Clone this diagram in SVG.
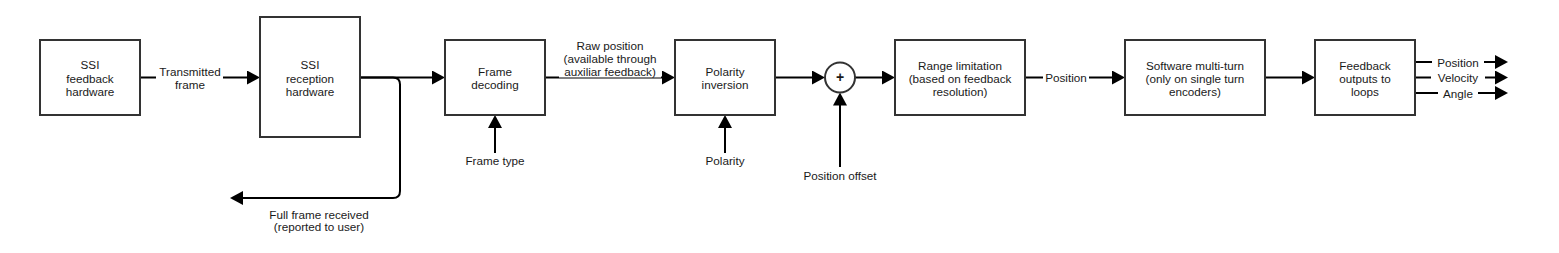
<svg xmlns="http://www.w3.org/2000/svg" width="1559" height="253" viewBox="0 0 1559 253">
<style>
.box{fill:#fff;stroke:#333;stroke-width:2}
.t{font-family:"Liberation Sans",Arial,sans-serif;font-size:11.7px;fill:#1a1a1a;text-anchor:middle;dominant-baseline:central}
.c{fill:none;stroke:#000;stroke-width:2}
.a{marker-end:url(#ah)}
.bg{fill:#fff}
</style>
<defs>
<marker id="ah" markerUnits="userSpaceOnUse" markerWidth="13" markerHeight="14" refX="3" refY="7" orient="auto" viewBox="0 0 13 14">
<path d="M0,0 L13,7 L0,14 z" fill="#000"/>
</marker>
</defs>
<rect width="1559" height="253" fill="#fff"/>
<g id="connectors">
<line class="c a" x1="140" y1="77.5" x2="250" y2="77.5"/>
<line class="c a" x1="360" y1="77.5" x2="435" y2="77.5"/>
<path class="c a" d="M360,77.5 H393 Q400,77.5 400,84.5 V191 Q400,198 393,198 H240"/>
<line class="c a" x1="545" y1="77.5" x2="665" y2="77.5"/>
<line class="c a" x1="495" y1="153" x2="495" y2="125"/>
<line class="c a" x1="775" y1="77.5" x2="815" y2="77.5"/>
<line class="c a" x1="725" y1="153" x2="725" y2="125"/>
<line class="c a" x1="855" y1="77.5" x2="885" y2="77.5"/>
<line class="c a" x1="840" y1="167" x2="840" y2="102.5"/>
<line class="c a" x1="1025" y1="77.5" x2="1115" y2="77.5"/>
<line class="c a" x1="1265" y1="77.5" x2="1305" y2="77.5"/>
<line class="c a" x1="1415" y1="62" x2="1498" y2="62"/>
<line class="c a" x1="1415" y1="77.5" x2="1498" y2="77.5"/>
<line class="c a" x1="1415" y1="93" x2="1498" y2="93"/>
</g>
<g id="edge-labels">
<rect class="bg" x="156" y="64" width="67" height="27"/>
<text class="t" x="190" y="71.5">Transmitted</text>
<text class="t" x="190" y="84">frame</text>
<rect class="bg" x="559" y="37" width="102" height="40.5"/>
<text class="t" x="610" y="45">Raw position</text>
<text class="t" x="610" y="58.3">(available through</text>
<text class="t" x="610" y="71.6">auxiliar feedback)</text>
<text class="t" x="495" y="160">Frame type</text>
<text class="t" x="725" y="160">Polarity</text>
<text class="t" x="840" y="175">Position offset</text>
<text class="t" x="319" y="214">Full frame received</text>
<text class="t" x="319" y="226.5">(reported to user)</text>
<rect class="bg" x="1043" y="70" width="46" height="15"/>
<text class="t" x="1066" y="77.5">Position</text>
<rect class="bg" x="1432" y="55" width="52" height="14"/>
<text class="t" x="1458" y="62">Position</text>
<rect class="bg" x="1431" y="71" width="54" height="14"/>
<text class="t" x="1458" y="77.5">Velocity</text>
<rect class="bg" x="1438" y="86" width="40" height="14"/>
<text class="t" x="1458" y="93">Angle</text>
</g>
<g id="ssi-feedback-hardware">
<rect class="box" x="40" y="40" width="100" height="75"/>
<text class="t" x="90" y="64.5">SSI</text>
<text class="t" x="90" y="78">feedback</text>
<text class="t" x="90" y="91.5">hardware</text>
</g>
<g id="ssi-reception-hardware">
<rect class="box" x="260" y="17" width="100" height="120"/>
<text class="t" x="310" y="64.5">SSI</text>
<text class="t" x="310" y="78">reception</text>
<text class="t" x="310" y="91.5">hardware</text>
</g>
<g id="frame-decoding">
<rect class="box" x="445" y="40" width="100" height="75"/>
<text class="t" x="495" y="71">Frame</text>
<text class="t" x="495" y="84">decoding</text>
</g>
<g id="polarity-inversion">
<rect class="box" x="675" y="40" width="100" height="75"/>
<text class="t" x="725" y="71">Polarity</text>
<text class="t" x="725" y="84">inversion</text>
</g>
<g id="sum">
<circle cx="840" cy="77.5" r="15" fill="#fff" stroke="#333" stroke-width="2"/>
<text class="t" x="840" y="77" style="font-weight:bold;font-size:14px">+</text>
</g>
<g id="range-limitation">
<rect class="box" x="895" y="40" width="130" height="75"/>
<text class="t" x="960" y="65">Range limitation</text>
<text class="t" x="960" y="78">(based on feedback</text>
<text class="t" x="960" y="91">resolution)</text>
</g>
<g id="software-multi-turn">
<rect class="box" x="1125" y="40" width="140" height="75"/>
<text class="t" x="1195" y="65">Software multi-turn</text>
<text class="t" x="1195" y="78.3">(only on single turn</text>
<text class="t" x="1195" y="91.6">encoders)</text>
</g>
<g id="feedback-outputs">
<rect class="box" x="1315" y="40" width="100" height="75"/>
<text class="t" x="1365" y="65">Feedback</text>
<text class="t" x="1365" y="78.3">outputs to</text>
<text class="t" x="1365" y="91.6">loops</text>
</g>
</svg>
